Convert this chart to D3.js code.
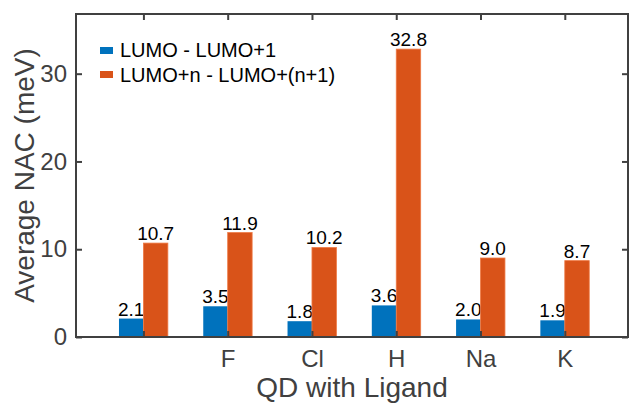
<html>
<head>
  <style type="text/css">
    body { margin: 0; background: #fff; }
    text { font-family: "Liberation Sans", Arial, sans-serif; }
  </style>
</head>
<body>
  <div id="viz"></div>
  <script src="https://cdnjs.cloudflare.com/ajax/libs/d3/7.8.5/d3.min.js"></script>
  <script>
  // values
  const ligands = ['', 'F', 'Cl', 'H', 'Na', 'K'];
  const lumoGap = [2.1, 3.5, 1.8, 3.6, 2.0, 1.9];
  const higherGap = [10.7, 11.9, 10.2, 32.8, 9.0, 8.7];
  const seriesNames = ['LUMO - LUMO+1', 'LUMO+n - LUMO+(n+1)'];
  const yTicks = [0, 10, 20, 30];

  const colors = ['#0072BD', '#D95319'];
  const axisColor = '#404040';

  const W = 632, H = 406;
  const box = { left: 76, right: 628, top: 14, bottom: 337 };

  const svg = d3.select('#viz').append('svg')
    .attr('width', W)
    .attr('height', H);

  // x: category index (1..6)
  const x = d3.scaleLinear()
    .domain([0.2, 6.75])
    .range([box.left, box.right]);

  const y = d3.scaleLinear()
    .domain([0, 36.8])
    .range([box.bottom, box.top]);

  const barW = 0.29; // in category units
  const idx = ligands.map((d, i) => i + 1);

  const series = [lumoGap, higherGap];

  series.forEach((vals, s) => {
    const g = svg.append('g');
    g.selectAll('rect').data(vals)
      .enter().append('rect')
        .attr('x', (d, i) => s === 0 ? x(idx[i] - barW) : x(idx[i]))
        .attr('width', x(barW) - x(0))
        .attr('y', d => y(d))
        .attr('height', d => y(0) - y(d))
        .attr('fill', colors[s])
        .attr('stroke', s === 1 ? '#ee7a45' : 'none')
        .attr('stroke-width', 0.8);

    g.selectAll('text').data(vals)
      .enter().append('text')
        .attr('x', (d, i) => s === 0 ? x(idx[i] - barW / 2) : x(idx[i] + barW / 2))
        .attr('y', d => y(d) - 3)
        .attr('text-anchor', 'middle')
        .attr('font-size', 19)
        .attr('fill', '#000')
        .text(d => d.toFixed(1));
  });

  // axes (ticks point inward)
  const axisStyle = (sel) => {
    sel.select('.domain').remove();
    sel.selectAll('line').attr('stroke', axisColor).attr('stroke-width', 2);
    sel.selectAll('text').attr('fill', axisColor).attr('font-size', 24)
      .style('font-family', '"Liberation Sans", Arial, sans-serif');
  };

  svg.append('g')
    .attr('transform', 'translate(' + box.left + ',0)')
    .call(d3.axisLeft(y).tickValues(yTicks).tickSize(-6).tickPadding(9))
    .call(axisStyle);

  svg.append('g')
    .attr('transform', 'translate(' + box.right + ',0)')
    .call(d3.axisRight(y).tickValues(yTicks).tickSize(-6).tickFormat(''))
    .call(axisStyle);

  svg.append('g')
    .attr('transform', 'translate(0,' + box.bottom + ')')
    .call(d3.axisBottom(x).tickValues(idx).tickSize(-6).tickPadding(13)
      .tickFormat((d, i) => ligands[i]))
    .call(axisStyle);

  svg.append('g')
    .attr('transform', 'translate(0,' + box.top + ')')
    .call(d3.axisTop(x).tickValues(idx).tickSize(-6).tickFormat(''))
    .call(axisStyle);

  // frame
  svg.append('rect')
    .attr('x', box.left)
    .attr('y', box.top)
    .attr('width', box.right - box.left)
    .attr('height', box.bottom - box.top)
    .attr('fill', 'none')
    .attr('stroke', axisColor)
    .attr('stroke-width', 2);

  // axis titles
  svg.append('text')
    .attr('x', (box.left + box.right) / 2)
    .attr('y', 397)
    .attr('text-anchor', 'middle')
    .attr('font-size', 28)
    .attr('fill', axisColor)
    .text('QD with Ligand');

  svg.append('text')
    .attr('transform', 'translate(34,' + ((box.top + box.bottom) / 2) + ') rotate(-90)')
    .attr('text-anchor', 'middle')
    .attr('font-size', 28)
    .attr('fill', axisColor)
    .text('Average NAC (meV)');

  // legend
  const legend = svg.append('g').attr('transform', 'translate(100,40)');
  seriesNames.forEach((name, i) => {
    legend.append('rect')
      .attr('x', 0)
      .attr('y', i * 24 + 7)
      .attr('width', 13)
      .attr('height', 7)
      .attr('fill', colors[i]);
    legend.append('text')
      .attr('x', 20)
      .attr('y', i * 25 + 17)
      .attr('font-size', 20)
      .attr('fill', '#000')
      .text(name);
  });
  </script>
</body>
</html>
